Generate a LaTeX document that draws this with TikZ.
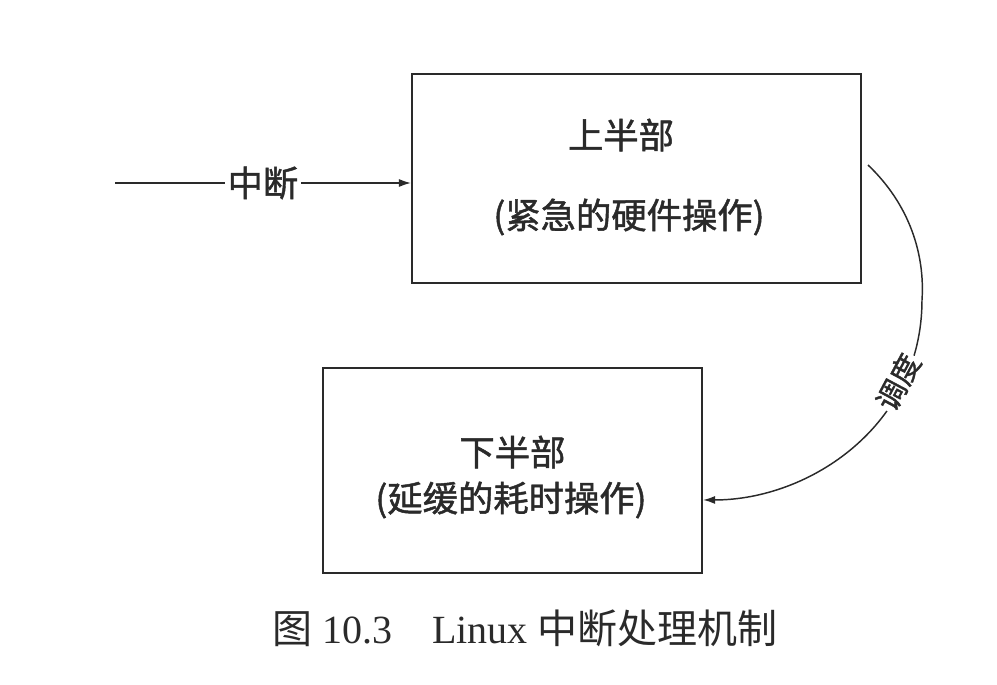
\documentclass[tikz,border=0pt]{standalone}
\usepackage{fontspec}
\setmainfont{Liberation Serif}
\newfontfamily\cjk{Noto Sans CJK SC}
\newfontfamily\cjkb[FakeBold=1.3]{Noto Sans CJK SC}
\usetikzlibrary{arrows.meta}
\definecolor{ink}{HTML}{2A2A2A}
\tikzset{
  boxnode/.style={draw=ink, line width=1.6pt, inner sep=0pt, fill=white},
  lbl/.style={text=ink, inner sep=1pt, font=\cjkb\fontsize{26.5}{30}\selectfont},
  conn/.style={draw=ink, line width=1.1pt, -{Latex[length=9pt,width=6pt]}},
}
\begin{document}
\begin{tikzpicture}[x=0.75pt,y=-0.75pt]
\useasboundingbox (0,0) rectangle (997,685);
\node[boxnode, minimum width=336.75pt, minimum height=156.75pt] (b1) at (636.5,178.5) {};
\node[boxnode, minimum width=284.25pt, minimum height=153.75pt] (b2) at (512.5,470.5) {};
\node[lbl] (t1a) at (621,135) {上半部};
\node[lbl] (t1b) at (629,217) {(紧急的硬件操作)};
\node[lbl] (t2a) at (512.5,452) {下半部};
\node[lbl] (t2b) at (511,500) {(延缓的耗时操作)};
\coordinate (in) at (115,183);
\draw[conn] (in) -- (in -| b1.west) node[pos=0.5, lbl, fill=white, inner sep=2pt] (intr) {中断};
\coordinate (s) at (868,165);
\coordinate (m) at (922,300);
\coordinate (e) at ([yshift=-22.1pt]b2.east);
\draw[conn] (s) .. controls (910,205) and (925,255) .. (m)
  .. controls (922,425) and (810,500) .. (e);
\node[lbl, fill=white, rotate=62, inner sep=1pt, font=\cjkb\fontsize{22}{24}\selectfont] (sched) at (898,382) {调度};
\node[text=ink, font=\fontsize{30}{33}\selectfont, anchor=center] (cap) at (525,628)
  {{\cjk 图} 10.3\hspace{1em}Linux {\cjk 中断处理机制}};
\end{tikzpicture}
\end{document}
